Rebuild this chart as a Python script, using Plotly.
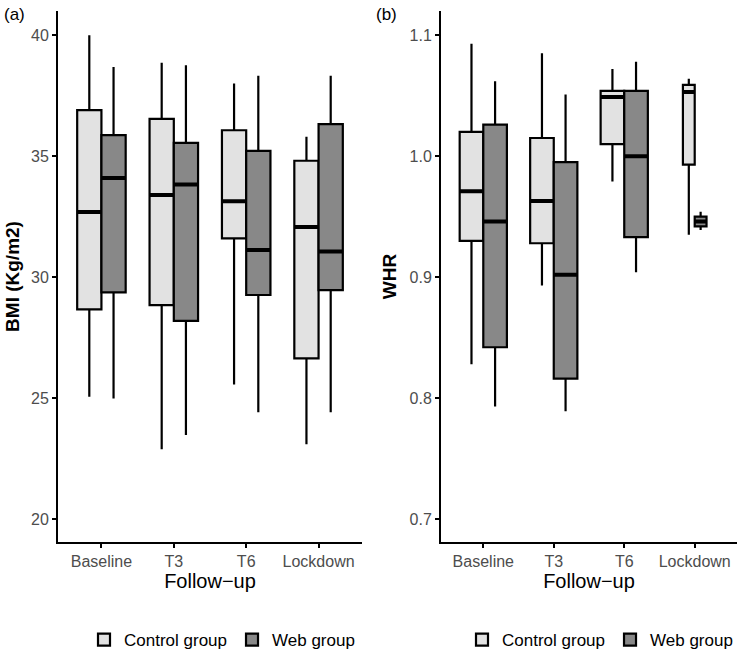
import plotly.graph_objects as go

categories = ["Baseline", "T3", "T6", "Lockdown"]
group_names = ["Control group", "Web group"]

# Panel (a) BMI box statistics
bmi_control_lower = [25.05, 22.88, 25.56, 23.09]
bmi_control_q1 = [28.67, 28.84, 31.60, 26.64]
bmi_control_median = [32.69, 33.39, 33.14, 32.07]
bmi_control_q3 = [36.90, 36.54, 36.07, 34.81]
bmi_control_upper = [40.00, 38.86, 38.00, 35.80]

bmi_web_lower = [24.98, 23.47, 24.41, 24.41]
bmi_web_q1 = [29.37, 28.19, 29.26, 29.46]
bmi_web_median = [34.10, 33.83, 31.12, 31.06]
bmi_web_q3 = [35.87, 35.55, 35.22, 36.32]
bmi_web_upper = [38.69, 38.76, 38.32, 38.32]

# Panel (b) WHR box statistics
whr_control_lower = [0.828, 0.893, 0.979, 0.935]
whr_control_q1 = [0.930, 0.928, 1.010, 0.993]
whr_control_median = [0.971, 0.963, 1.049, 1.053]
whr_control_q3 = [1.020, 1.015, 1.054, 1.059]
whr_control_upper = [1.093, 1.085, 1.072, 1.064]

whr_web_lower = [0.793, 0.789, 0.904, 0.939]
whr_web_q1 = [0.842, 0.816, 0.933, 0.942]
whr_web_median = [0.946, 0.902, 1.000, 0.946]
whr_web_q3 = [1.026, 0.995, 1.054, 0.950]
whr_web_upper = [1.062, 1.051, 1.078, 0.954]

bmi_ticks = [20, 25, 30, 35, 40]
whr_ticks = [0.7, 0.8, 0.9, 1.0, 1.1]

FILL = {"Control group": "#e2e2e2", "Web group": "#888888"}
FONT = "Liberation Sans, Arial, sans-serif"
TICKCOL = "#4d4d4d"

fig = go.Figure()


def add_box(name, x, lo, q1, med, q3, hi, xaxis, yaxis, legend, showlegend):
    fig.add_trace(go.Box(
        name=name, x=x, lowerfence=lo, q1=q1, median=med, q3=q3, upperfence=hi,
        xaxis=xaxis, yaxis=yaxis, offsetgroup=name, alignmentgroup=xaxis,
        fillcolor=FILL[name], line=dict(color="black", width=2.2),
        whiskerwidth=0, boxpoints=False, legend=legend,
        showlegend=showlegend, legendgroup=legend + name,
    ))
    # thicker median bar (ggplot fatten)
    fig.add_trace(go.Box(
        name=name, x=x, lowerfence=med, q1=med, median=med, q3=med, upperfence=med,
        xaxis=xaxis, yaxis=yaxis, offsetgroup=name, alignmentgroup=xaxis,
        fillcolor=FILL[name], line=dict(color="black", width=4),
        whiskerwidth=0, boxpoints=False, showlegend=False, hoverinfo="skip",
        legend=legend, legendgroup=legend + name,
    ))


# Panel (a)
add_box("Control group", categories, bmi_control_lower, bmi_control_q1, bmi_control_median,
        bmi_control_q3, bmi_control_upper, "x", "y", "legend", True)
add_box("Web group", categories, bmi_web_lower, bmi_web_q1, bmi_web_median,
        bmi_web_q3, bmi_web_upper, "x", "y", "legend", True)

# Panel (b): first three time points on x2, narrow Lockdown boxes on overlay x3
n = 3
add_box("Control group", categories[:n], whr_control_lower[:n], whr_control_q1[:n],
        whr_control_median[:n], whr_control_q3[:n], whr_control_upper[:n], "x2", "y2", "legend2", True)
add_box("Web group", categories[:n], whr_web_lower[:n], whr_web_q1[:n],
        whr_web_median[:n], whr_web_q3[:n], whr_web_upper[:n], "x2", "y2", "legend2", True)
add_box("Control group", categories[n:], whr_control_lower[n:], whr_control_q1[n:],
        whr_control_median[n:], whr_control_q3[n:], whr_control_upper[n:], "x3", "y2", "legend2", False)
add_box("Web group", categories[n:], whr_web_lower[n:], whr_web_q1[n:],
        whr_web_median[n:], whr_web_q3[n:], whr_web_upper[n:], "x3", "y2", "legend2", False)

W, H = 746, 660
xa_dom = [58 / W, 362 / W]
xb_dom = [441 / W, 737 / W]
y_dom = [(H - 542) / H, (H - 11) / H]
xr = [-0.6, 3.6]

common_x = dict(
    type="category", categoryorder="array", categoryarray=categories, range=xr,
    showline=True, linecolor="black", linewidth=2, ticks="outside", ticklen=4,
    tickwidth=2, tickcolor="black", showgrid=False, zeroline=False, automargin=False,
    tickfont=dict(size=16, color=TICKCOL, family=FONT),
    title=dict(text="Follow\u2212up", font=dict(size=20, color="black", family=FONT), standoff=2),
)
common_y = dict(
    showline=True, linecolor="black", linewidth=2, ticks="outside", ticklen=4,
    tickwidth=2, tickcolor="black", showgrid=False, zeroline=False, automargin=False,
    tickfont=dict(size=16, color=TICKCOL, family=FONT),
)

# overlay axis range: Lockdown aligned with x2's Lockdown position, narrower boxes
k = 2.0
f = (3 - xr[0]) / (xr[1] - xr[0])
L = (xr[1] - xr[0]) * k
x3_range = [-f * L, (1 - f) * L]

fig.update_layout(
    width=W, height=H, margin=dict(l=0, r=0, t=0, b=0, autoexpand=False),
    plot_bgcolor="white", paper_bgcolor="white",
    boxmode="group", boxgap=0.33, boxgroupgap=0.0,
    font=dict(family=FONT, color="black"),
    xaxis=dict(domain=xa_dom, anchor="y", **common_x),
    yaxis=dict(domain=y_dom, anchor="x", range=[19.05, 41], tickvals=bmi_ticks,
               title=dict(text="<b>BMI (Kg/m2)</b>", font=dict(size=19, family=FONT), standoff=6),
               **common_y),
    xaxis2=dict(domain=xb_dom, anchor="y2", **common_x),
    yaxis2=dict(domain=y_dom, anchor="x2", range=[0.681, 1.12], tickvals=whr_ticks,
                ticktext=[f"{v:.1f}" for v in whr_ticks],
                title=dict(text="<b>WHR</b>", font=dict(size=19, family=FONT), standoff=8),
                **common_y),
    xaxis3=dict(domain=xb_dom, anchor="y2", overlaying="x2", type="category",
                categoryorder="array", categoryarray=categories[n:], range=x3_range,
                visible=False),
    legend=dict(orientation="h", x=222 / W, xanchor="center", y=20 / H, yanchor="middle",
                font=dict(size=17, family=FONT), bgcolor="rgba(0,0,0,0)"),
    legend2=dict(orientation="h", x=600 / W, xanchor="center", y=20 / H, yanchor="middle",
                 font=dict(size=17, family=FONT), bgcolor="rgba(0,0,0,0)"),
    annotations=[
        dict(text="(a)", x=2 / W, y=(H - 15) / H, xref="paper", yref="paper",
             xanchor="left", yanchor="middle", showarrow=False, font=dict(size=17, family=FONT)),
        dict(text="(b)", x=374 / W, y=(H - 15) / H, xref="paper", yref="paper",
             xanchor="left", yanchor="middle", showarrow=False, font=dict(size=17, family=FONT)),
    ],
)

fig.write_html("out.html", config={"displayModeBar": False},
               post_script="document.body.style.margin='0';")
